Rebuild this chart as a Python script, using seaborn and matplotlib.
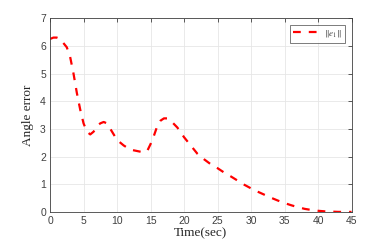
import seaborn as sns
import matplotlib.pyplot as plt
import pandas as pd

time_sec = [0, 0.5, 1, 1.5, 2, 2.5, 3, 3.5, 4, 4.5, 5, 5.5, 6, 6.5, 7, 7.5, 8, 8.5, 9, 9.5,
            10, 11, 12, 13, 14, 14.5, 15, 15.5, 16, 16.5, 17, 17.5, 18, 19, 20, 21, 22, 23,
            24, 25, 26, 27, 28, 29, 30, 31, 32, 33, 34, 35, 36, 37, 38, 39, 40, 41, 42, 43, 44, 45]
angle_err = [6.25, 6.3, 6.3, 6.25, 6.1, 5.95, 5.6, 5.0, 4.3, 3.7, 3.2, 2.9, 2.8, 2.9, 3.1, 3.2, 3.25, 3.2, 3.0, 2.8,
             2.6, 2.4, 2.25, 2.2, 2.15, 2.2, 2.45, 2.75, 3.1, 3.3, 3.38, 3.38, 3.3, 3.05, 2.7, 2.4, 2.1, 1.9,
             1.72, 1.58, 1.42, 1.28, 1.13, 0.98, 0.85, 0.73, 0.62, 0.51, 0.41, 0.32, 0.24, 0.17, 0.11, 0.07, 0.04, 0.02, 0.01, 0.0, 0.0, 0.0]
x_ticks = [0, 5, 10, 15, 20, 25, 30, 35, 40, 45]
y_ticks = [0, 1, 2, 3, 4, 5, 6, 7]

df = pd.DataFrame({"t": time_sec, "err": angle_err})

sns.set_style("white")
plt.rcParams["font.family"] = ["Liberation Sans", "DejaVu Sans"]
plt.rcParams["mathtext.fontset"] = "stix"
plt.rcParams["lines.dash_capstyle"] = "butt"

fig = plt.figure(figsize=(3.88, 2.43), dpi=100)
ax = fig.add_axes([0.129, 0.128, 0.777, 0.797])

sns.lineplot(data=df, x="t", y="err", ax=ax, color="#ff0000", linewidth=1.6,
             linestyle=(0, (3.5, 3.6)), label=r"$\|e_1\|$")

ax.set_xlim(0, 45)
ax.set_ylim(0, 7)
ax.set_xticks(x_ticks)
ax.set_yticks(y_ticks)
ax.grid(True, color="#e6e6e6", linewidth=0.6)
ax.tick_params(direction="in", length=3, width=0.6, colors="#404040", labelsize=7.5,
               top=True, right=True, pad=3)
for s in ax.spines.values():
    s.set_color("#404040")
    s.set_linewidth(0.6)

ax.set_xlabel("Time(sec)", family=["Liberation Serif"], fontsize=9.5, color="#262626", labelpad=1)
ax.set_ylabel("Angle error", family=["Liberation Serif"], fontsize=9.5, color="#262626", labelpad=4)

leg = ax.legend(loc="upper right", fontsize=6.5, frameon=True, fancybox=False,
                handlelength=2.6, handletextpad=0.8, borderpad=0.4, borderaxespad=0.7)
leg.get_frame().set_edgecolor("#404040")
leg.get_frame().set_linewidth(0.6)
for t in leg.get_texts():
    t.set_color("#404040")

fig.savefig("out.png", dpi=100)
